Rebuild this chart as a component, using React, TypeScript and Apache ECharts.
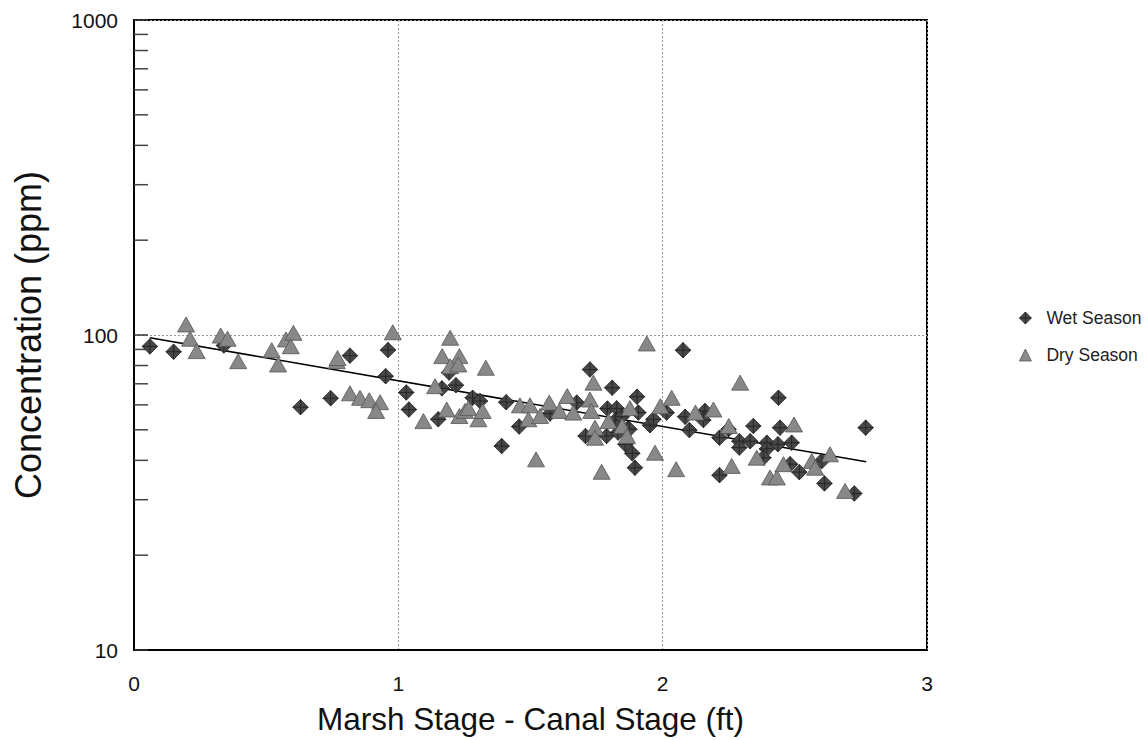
import React, { useEffect, useRef } from "react";
import * as echarts from "echarts";

const wetX = [0.06, 0.15, 0.34, 0.63, 0.744, 0.817, 0.961, 0.952, 1.03, 1.04, 1.192, 1.165, 1.218, 1.281, 1.309, 1.151, 1.408, 1.457, 1.391, 1.725, 1.809, 1.903, 1.791, 1.826, 1.708, 1.788, 1.908, 1.859, 1.885, 1.895, 1.952, 1.868, 2.015, 2.077, 1.675, 1.574, 1.831, 1.874, 1.965, 2.101, 2.16, 2.154, 2.085, 2.215, 2.215, 2.249, 2.29, 2.29, 2.331, 2.343, 2.438, 2.394, 2.394, 2.381, 2.444, 2.436, 2.488, 2.482, 2.517, 2.602, 2.612, 2.725, 2.768, 1.82, 1.845];
const wetY = [92, 88.5, 92.6, 59, 63, 86, 89.6, 74, 65.7, 58, 76, 67.7, 69.3, 63.2, 61.7, 54, 61.2, 51.2, 44.4, 77.7, 68, 63.7, 58.4, 58.5, 47.8, 47.8, 56.7, 45, 42.1, 37.9, 51.7, 50.5, 56.7, 89.5, 61, 56.3, 49, 50.2, 54, 49.9, 57.4, 53.7, 55, 47.2, 35.9, 50.2, 46, 43.9, 46, 51.4, 63.2, 45.5, 43.5, 40.8, 50.8, 45, 45.5, 38.9, 36.7, 39.8, 33.8, 31.4, 50.8, 53.5, 55];

const dryX = [0.197, 0.212, 0.237, 0.328, 0.354, 0.394, 0.521, 0.545, 0.575, 0.603, 0.593, 0.767, 0.77, 0.979, 0.817, 0.855, 0.89, 0.931, 0.916, 1.196, 1.166, 1.231, 1.196, 1.227, 1.331, 1.139, 1.095, 1.183, 1.231, 1.252, 1.265, 1.303, 1.319, 1.46, 1.498, 1.492, 1.536, 1.521, 1.571, 1.609, 1.639, 1.662, 1.725, 1.738, 1.73, 1.744, 1.744, 1.795, 1.847, 1.865, 1.876, 1.769, 1.94, 1.971, 2.034, 1.991, 2.051, 2.293, 2.124, 2.192, 2.25, 2.261, 2.356, 2.406, 2.432, 2.457, 2.497, 2.564, 2.577, 2.633, 2.69];
const dryY = [108, 97.3, 88.9, 99.6, 97.3, 82.6, 89.5, 80.6, 96.8, 101.6, 92.1, 82.6, 84.5, 102, 65.3, 63.2, 62.1, 61.2, 57.4, 98, 85.7, 85.7, 79.6, 80.6, 78.7, 68.8, 53.3, 58, 55.3, 57.4, 58.6, 54, 57.4, 59.8, 59.8, 54, 55.3, 40.3, 61, 57.4, 64, 56.7, 62.4, 70.6, 57.4, 50.8, 47.2, 53.3, 51.4, 47.8, 58.6, 36.8, 94, 42.3, 63.2, 59.4, 37.5, 70.6, 56.7, 58, 51.4, 38.4, 40.8, 35.3, 35.3, 38.9, 52, 39.8, 37.9, 41.8, 32];

const trendX = [0.06, 2.77];
const trendY = [98, 39.6];

const minorTickValues = [20, 30, 40, 50, 60, 70, 80, 90, 200, 300, 400, 500, 600, 700, 800, 900];

const xTickLabels = ["0", "1", "2", "3"];

const FONT = "Liberation Sans, Arial, sans-serif";
const DIAMOND = "path://M0,-10L10,0L0,10L-10,0Z M0,-10L0,10 M-10,0L10,0";

export default function App() {
  const ref = useRef<HTMLDivElement>(null);
  useEffect(() => {
    document.body.style.margin = "0";
    const chart = echarts.init(ref.current!, null, { renderer: "svg" });
    const wet = wetX.map((x, i) => [x, wetY[i]]);
    const dry = dryX.map((x, i) => [x, dryY[i]]);
    const trend = trendX.map((x, i) => [x, trendY[i]]);
    chart.setOption({
      animation: false,
      backgroundColor: "#fff",
      grid: { left: 134, top: 20, right: 221, bottom: 89, show: true, borderColor: "#000", borderWidth: 2, backgroundColor: "transparent" },
      legend: {
        orient: "vertical",
        left: 1014,
        top: 304,
        itemWidth: 12,
        itemHeight: 12,
        itemGap: 19,
        textStyle: { fontFamily: FONT, fontSize: 17.5, color: "#222", padding: [0, 0, 0, 10] },
        data: [
          { name: "Wet Season", icon: DIAMOND, itemStyle: { color: "#4a4a4a", borderColor: "#1e1e1e", borderWidth: 0.8 } },
          { name: "Dry Season", icon: "triangle", itemStyle: { color: "#8a8a8a", borderColor: "#555", borderWidth: 0.8 } },
        ],
      },
      xAxis: {
        type: "value",
        min: 0,
        max: 3,
        interval: 1,
        name: "Marsh Stage - Canal Stage (ft)",
        nameLocation: "middle",
        nameGap: 53,
        nameTextStyle: { fontFamily: FONT, fontSize: 31.5, color: "#111" },
        axisLine: { show: true, lineStyle: { color: "#000", width: 2 } },
        axisTick: { show: false },
        axisLabel: { fontFamily: FONT, fontSize: 21, color: "#111", margin: 23, formatter: (v: number) => xTickLabels[Math.round(v)] },
        splitLine: { show: true, lineStyle: { color: "#999", width: 1, type: [2, 2] } },
      },
      yAxis: {
        type: "log",
        logBase: 10,
        min: 10,
        max: 1000,
        name: "Concentration (ppm)",
        nameLocation: "middle",
        nameGap: 88,
        nameTextStyle: { fontFamily: FONT, fontSize: 36, color: "#111" },
        axisLine: { show: true, lineStyle: { color: "#000", width: 2 } },
        axisTick: { show: true, inside: true, length: 14, lineStyle: { color: "#333", width: 1.5 } },
        axisLabel: { fontFamily: FONT, fontSize: 21, color: "#111", margin: 16, formatter: (v: number) => String(Math.round(v)) },
        splitLine: { show: true, lineStyle: { color: "#999", width: 1, type: [2, 2] } },
      },
      series: [
        {
          type: "custom",
          silent: true,
          z: 1,
          data: minorTickValues.map((v) => [0, v]),
          renderItem: (params: any, api: any) => {
            const p = api.coord([api.value(0), api.value(1)]);
            return {
              type: "line",
              shape: { x1: p[0], y1: p[1], x2: p[0] + 14, y2: p[1] },
              style: { stroke: "#444", lineWidth: 1.5 },
            };
          },
        },
        {
          type: "line",
          data: trend,
          symbol: "none",
          z: 2,
          lineStyle: { color: "#000", width: 1.6 },
        },
        {
          name: "Wet Season",
          type: "scatter",
          data: wet,
          symbol: DIAMOND,
          symbolSize: 15.5,
          z: 3,
          itemStyle: { color: "#484848", borderColor: "#1e1e1e", borderWidth: 0.8, opacity: 1 },
        },
        {
          name: "Dry Season",
          type: "scatter",
          data: dry,
          symbol: "triangle",
          symbolSize: [17, 15],
          z: 4,
          itemStyle: { color: "#888", borderColor: "#555", borderWidth: 0.8, opacity: 1 },
        },
      ],
    });
    return () => chart.dispose();
  }, []);
  return <div ref={ref} style={{ width: 1148, height: 740 }} />;
}
